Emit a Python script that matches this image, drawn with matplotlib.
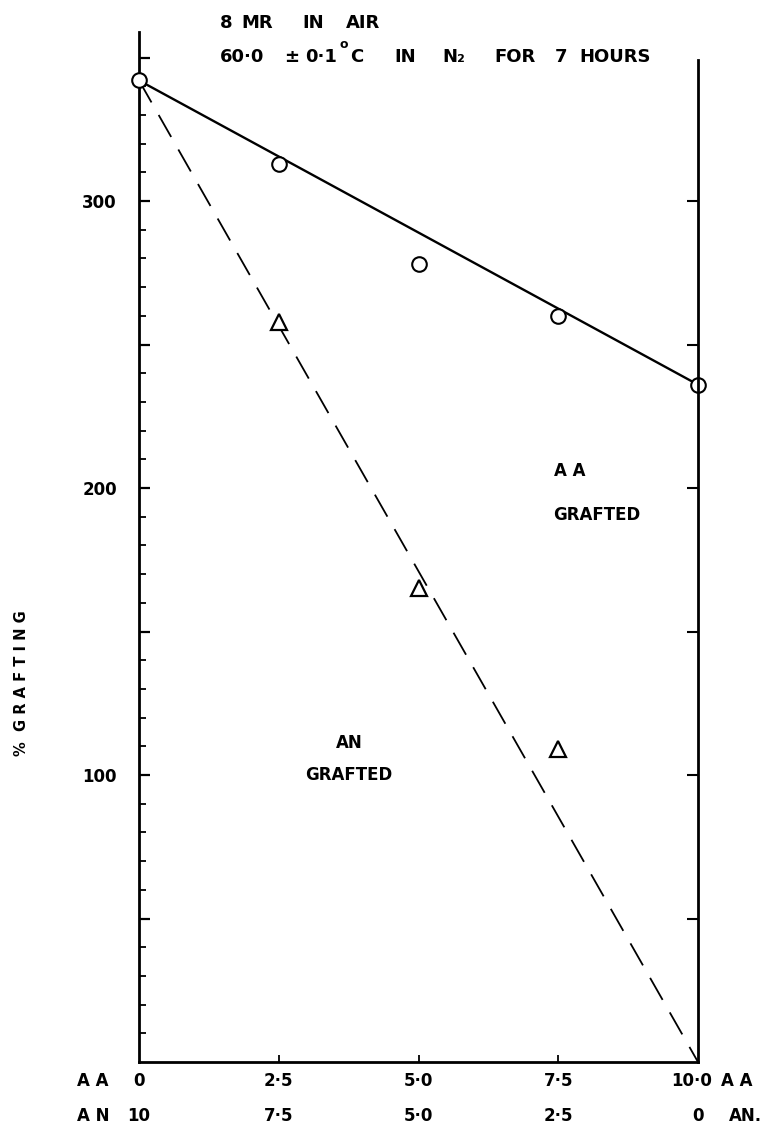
import matplotlib
matplotlib.use("Agg")
import matplotlib.pyplot as plt
import matplotlib.transforms as mtransforms

# ---- data ----
aa_conc = [0.0, 2.5, 5.0, 7.5, 10.0]
aa_grafted = [342, 313, 278, 260, 236]          # open circles
tri_conc = [2.5, 5.0, 7.5]
an_grafted_pts = [258, 165, 109]                # open triangles
solid_x = [0.0, 10.0]
solid_y = [342, 236]
dashed_x = [0.0, 10.0]
dashed_y = [342, 0]
aa_labels = ["0", "2·5", "5·0", "7·5", "10·0"]
an_labels = ["10", "7·5", "5·0", "2·5", "0"]
y_major = [100, 200, 300]

plt.rcParams['font.family'] = ['DejaVu Sans']
W, H = 768, 1125
fig = plt.figure(figsize=(W / 100, H / 100), dpi=100)

L, R, B, T = 139, 698, 1062, 32
ax = fig.add_axes([L / W, (H - B) / H, (R - L) / W, (B - T) / H])
ax.set_xlim(0, 10)
ax.set_ylim(0, (B - T) / 2.87)

ax.spines["top"].set_visible(False)
ax.spines["right"].set_visible(False)
ax.spines["left"].set_linewidth(2.0)
ax.spines["bottom"].set_linewidth(2.0)

# y ticks
ax.set_yticks(list(range(50, 351, 50)))
ax.set_yticklabels(["" if v not in y_major else str(v) for v in range(50, 351, 50)])
ax.set_yticks(list(range(10, 351, 10)), minor=True)
ax.tick_params(axis="y", which="major", direction="in", length=8, width=1.6, pad=16,
               labelsize=12)
ax.tick_params(axis="y", which="minor", direction="in", length=5, width=1.3)
for lab in ax.get_yticklabels():
    lab.set_fontweight("bold")

# x ticks
ax.set_xticks([2.5, 5.0, 7.5])
ax.set_xticklabels([])
ax.tick_params(axis="x", which="major", direction="in", length=5, width=1.3)

# right axis
ax2 = ax.twinx()
ax2.set_ylim(ax.get_ylim())
for s in ["top", "left", "bottom"]:
    ax2.spines[s].set_visible(False)
ax2.spines["right"].set_linewidth(2.0)
ax2.spines["right"].set_bounds(0, 349)
ax2.set_yticks(list(range(50, 301, 50)))
ax2.set_yticklabels([])
ax2.tick_params(axis="y", direction="in", length=8, width=1.5)

# lines
ax.plot(solid_x, solid_y, color="black", lw=1.7, zorder=3)
ax.plot(dashed_x, dashed_y, color="black", lw=1.3, dashes=(14, 8), zorder=3)

# markers
ax.plot(aa_conc, aa_grafted, linestyle="none", marker="o", markersize=10.5,
        markerfacecolor="white", markeredgecolor="black", markeredgewidth=1.5,
        zorder=5, clip_on=False)
ax.plot(tri_conc, an_grafted_pts, linestyle="none", marker="^", markersize=12,
        markerfacecolor="white", markeredgecolor="black", markeredgewidth=1.6,
        zorder=5, clip_on=False)

tf = dict(fontsize=12, fontweight="bold", ha="center", va="center")
# region labels
ax.text(7.71, 206, "A A", **tf)
ax.text(8.19, 190.5, "GRAFTED", **tf)
ax.text(3.77, 111, "AN", **tf)
ax.text(3.76, 100, "GRAFTED", **tf)

# bottom two-row labels
trans = mtransforms.blended_transform_factory(ax.transData, fig.transFigure)
row1 = 1 - 1081 / H
row2 = 1 - 1116 / H
for i, x in enumerate(aa_conc):
    dx = -0.12 if i == 4 else 0.0
    ax.text(x + dx, row1, aa_labels[i], transform=trans, clip_on=False, **tf)
    ax.text(x, row2, an_labels[i], transform=trans, clip_on=False, **tf)
fig.text(93 / W, row1, "A A", **tf)
fig.text(93 / W, row2, "A N", **tf)
fig.text(737 / W, row1, "A A", **tf)
fig.text(745 / W, row2, "AN.", **tf)

# y axis label
fig.text(22 / W, 1 - 683 / H, "%  G R A F T I N G", rotation=90, fontsize=10.5,
         fontweight="bold", ha="center", va="center")

# header, placed word by word
hf = dict(fontsize=13, fontweight="bold", ha="left", va="center")
y1 = 1 - 23 / H
y2 = 1 - 57 / H
for txt, px in [("8", 220), ("MR", 241), ("IN", 302), ("AIR", 346)]:
    fig.text(px / W, y1, txt, **hf)
for txt, px in [("60·0", 220), ("±", 284), ("0·1", 305), ("C", 350),
                ("IN", 394), ("N₂", 442), ("FOR", 494), ("7", 555),
                ("HOURS", 579)]:
    fig.text(px / W, y2, txt, **hf)
fig.text(339 / W, 1 - 45 / H, "o", fontsize=9, fontweight="bold", ha="left", va="center")

fig.savefig("out.png", dpi=100)
